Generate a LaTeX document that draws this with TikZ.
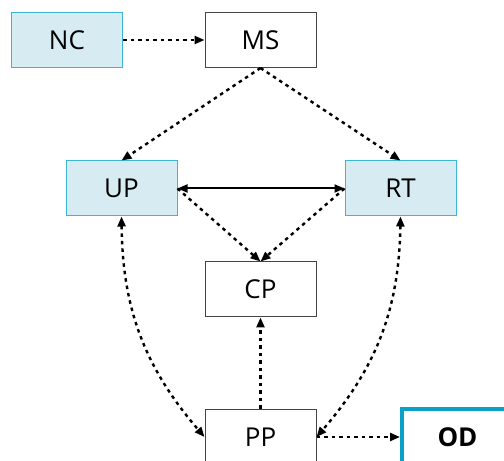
\documentclass[tikz,border=0pt]{standalone}
\usepackage{fontspec}
\setmainfont{Open Sans}
\usetikzlibrary{arrows.meta}
\definecolor{boxblue}{HTML}{D6EBF2}
\definecolor{edgeblue}{HTML}{3DB5D6}
\definecolor{odblue}{HTML}{0AA0C8}
\definecolor{boxgray}{HTML}{444444}
\tikzset{
  base/.style={minimum width=111pt, minimum height=55pt, inner sep=0pt, font=\fontsize{26}{30}\selectfont},
  whitebox/.style={base, draw=boxgray, line width=1pt, fill=white},
  bluebox/.style={base, draw=edgeblue, line width=1pt, fill=boxblue},
  odbox/.style={base, draw=odblue, line width=4pt, fill=white, font=\fontsize{26}{30}\selectfont\bfseries},
  dotline/.style={line width=2.4pt, dash pattern=on 3.5pt off 4pt, -{Triangle[length=10pt,width=8pt]}},
  dotboth/.style={dotline, {Triangle[length=10pt,width=8pt]}-{Triangle[length=10pt,width=8pt]}},
  solidboth/.style={line width=2pt, {Triangle[length=10pt,width=8pt]}-{Triangle[length=10pt,width=8pt]}}
}
\begin{document}
\begin{tikzpicture}[x=1pt,y=1pt]
\useasboundingbox (0,0) rectangle (504,461);
\node[bluebox] (NC) at (67,421) {NC};
\node[whitebox] (MS) at (260.5,421) {MS};
\node[bluebox] (UP) at (121.5,272.5) {UP};
\node[bluebox] (RT) at (400.5,272.5) {RT};
\node[whitebox] (CP) at (260.5,171.5) {CP};
\node[whitebox] (PP) at (260.5,24) {PP};
\node[odbox] (OD) at (457.5,24) {OD};
\draw[dotline] (NC.east) -- (MS.west);
\draw[dotline] (MS.south) -- (UP.north);
\draw[dotline] (MS.south) -- (RT.north);
\draw[solidboth] (UP.east) -- (RT.west);
\draw[dotline] (UP.east) -- (CP.north);
\draw[dotline] (RT.west) -- (CP.north);
\draw[dotline] (PP.north) -- (CP.south);
\draw[dotboth] (UP.south) to[bend right=20] (PP.west);
\draw[dotboth] (RT.south) to[bend left=20] (PP.east);
\draw[dotline] (PP.east) -- (OD.west);
\end{tikzpicture}
\end{document}
